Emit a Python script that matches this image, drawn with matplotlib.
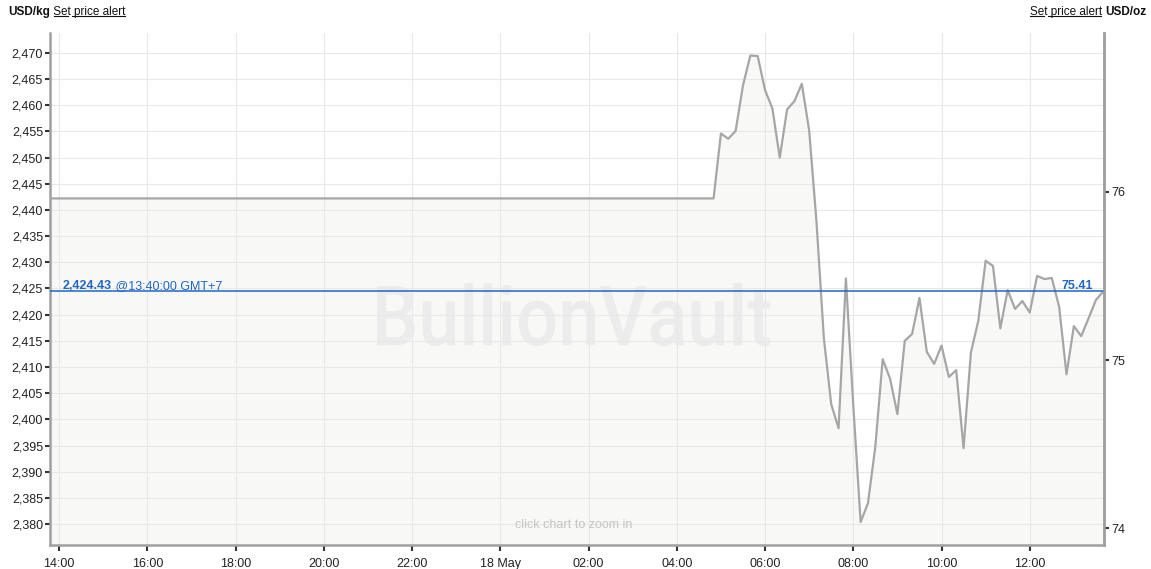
"""Silver price, USD/kg with USD/oz on the right axis (BullionVault style)."""
import matplotlib
matplotlib.use("Agg")
import matplotlib.pyplot as plt
from matplotlib.font_manager import FontProperties
from matplotlib.lines import Line2D
from matplotlib.patches import PathPatch
from matplotlib.textpath import TextPath
from matplotlib.transforms import Affine2D
import numpy as np
import pandas as pd

OZ_PER_KG = 32.1507

# market closed -> flat price, then 10-minute quotes 04:50 .. 13:40
flat_start = "2024-05-17 13:40"
flat_price = 2442.2
live_start = "2024-05-18 04:50"
live_prices = [
    2442.2, 2454.6, 2453.6, 2455.1, 2463.8, 2469.5, 2469.4, 2462.9, 2459.4, 2450.0,
    2459.2, 2460.8, 2464.1, 2455.2, 2437.7, 2415.5, 2402.9, 2398.3, 2426.9, 2402.7,
    2380.4, 2384.0, 2394.8, 2411.5, 2407.8, 2401.0, 2415.0, 2416.3, 2423.2, 2412.9,
    2410.6, 2414.1, 2408.1, 2409.4, 2394.5, 2412.8, 2418.8, 2430.3, 2429.3, 2417.4,
    2424.7, 2421.1, 2422.6, 2420.4, 2427.4, 2426.8, 2427.0, 2421.5, 2408.6, 2417.8,
    2415.9, 2419.3, 2422.8, 2424.43,
]
last_price = 2424.43
last_label = "@13:40:00 GMT+7"

x_ticks = ["2024-05-17 14:00", "2024-05-17 16:00", "2024-05-17 18:00", "2024-05-17 20:00",
           "2024-05-17 22:00", "2024-05-18 00:00", "2024-05-18 02:00", "2024-05-18 04:00",
           "2024-05-18 06:00", "2024-05-18 08:00", "2024-05-18 10:00", "2024-05-18 12:00"]
x_labels = ["14:00", "16:00", "18:00", "20:00", "22:00", "18 May",
            "02:00", "04:00", "06:00", "08:00", "10:00", "12:00"]
kg_ticks = list(range(2380, 2471, 5))
oz_ticks = [74, 75, 76]

BLUE = "#1f66c6"
LINE = "#a6a6a6"
SPINE = "#a0a0a0"
W, H = 1151, 569


def main():
    plt.rcParams["font.family"] = ["Liberation Sans", "DejaVu Sans"]
    plt.rcParams["font.size"] = 9

    times = pd.DatetimeIndex([pd.Timestamp(flat_start)]).append(
        pd.date_range(live_start, periods=len(live_prices), freq="10min"))
    prices = np.array([flat_price] + live_prices)

    fig = plt.figure(figsize=(W / 100, H / 100), dpi=100)
    ax = fig.add_axes([50 / W, 24 / H, 1054 / W, 512 / H])
    ylim = (2376.0, 2473.8)

    ax.fill_between(times, prices, ylim[0], color="#f8f8f6", lw=0, zorder=1)
    ax.plot(times, prices, color=LINE, lw=1.6, zorder=3)
    ax.axhline(last_price, color=BLUE, lw=1.1, zorder=4)

    ax.set_xlim(pd.Timestamp("2024-05-17 13:47:30"), pd.Timestamp("2024-05-18 13:41"))
    ax.set_ylim(*ylim)
    ax.set_xticks(pd.to_datetime(x_ticks))
    ax.set_xticklabels(x_labels)
    ax.set_yticks(kg_ticks)
    ax.set_yticklabels([f"{v:,}" for v in kg_ticks])
    ax.grid(True, color="#e8e8e8", lw=0.8, zorder=2)
    ax.tick_params(axis="both", length=3.5, width=1.5, color="#333333", labelcolor="#222222",
                   labelsize=9, pad=1.5)
    ax.tick_params(axis="x", length=4, pad=5.5)
    ax.spines["top"].set_visible(False)
    for s in ["left", "bottom", "right"]:
        ax.spines[s].set_color(SPINE)
        ax.spines[s].set_linewidth(1.8)

    # watermark, squeezed into its box (pixels, top-down: x 377..770, y 283..346)
    tp = TextPath((0, 0), "BullionVault", size=100,
                  prop=FontProperties(family="Roboto", weight="medium"))
    ext = tp.get_extents()
    sx = (770 - 377) / ext.width
    sy = (346 - 283) / ext.height
    tr = Affine2D().translate(-ext.x0, -ext.y0).scale(sx, sy).translate(377, H - 346)
    mark = PathPatch(tr.transform_path(tp), facecolor="#ececec", edgecolor="none", zorder=1.5)
    ax.add_patch(mark)
    mark.set_transform(Affine2D())  # display pixels
    mark.set_clip_on(False)

    ax.text(0.497, 0.04, "click chart to zoom in", transform=ax.transAxes, ha="center",
            va="center", fontsize=9, color="#c4c4c4")

    # current price labels
    t = ax.annotate(f"{last_price:,.2f}", xy=(0.012, last_price), xycoords=("axes fraction", "data"),
                    xytext=(0, -0.5), textcoords="offset points", ha="left", va="bottom",
                    color=BLUE, fontweight="bold", fontsize=9)
    ax.annotate(" " + last_label, xy=(1, 0), xycoords=t, ha="left", va="bottom",
                color=BLUE, fontsize=9)
    ax.annotate(f"{last_price / OZ_PER_KG:.2f}", xy=(0.9895, last_price),
                xycoords=("axes fraction", "data"), xytext=(0, -0.5), textcoords="offset points",
                ha="right", va="bottom", color=BLUE, fontweight="bold", fontsize=9)

    # right axis in USD/oz
    ax2 = ax.twinx()
    ax2.set_ylim(ylim[0] / OZ_PER_KG, ylim[1] / OZ_PER_KG)
    ax2.set_yticks(oz_ticks)
    ax2.tick_params(axis="y", length=3.5, width=1.5, color="#333333", labelcolor="#222222",
                    labelsize=9, pad=1.5)
    for s in ["top", "left", "bottom"]:
        ax2.spines[s].set_visible(False)
    ax2.spines["right"].set_color(SPINE)
    ax2.spines["right"].set_linewidth(1.8)

    # header
    hs = 8.5
    h1 = fig.text(8 / W, 1 - 12 / H, "USD/kg", fontweight="bold", fontsize=hs,
                  va="center", ha="left", color="#111111")
    a1 = ax.annotate(" Set price alert", xy=(1, 0), xycoords=h1, ha="left", va="bottom",
                     fontsize=hs, color="#111111", annotation_clip=False)
    h3 = fig.text(1146 / W, 1 - 12 / H, "USD/oz", fontweight="bold", fontsize=hs,
                  va="center", ha="right", color="#111111")
    a2 = ax.annotate("Set price alert ", xy=(0, 0), xycoords=h3, ha="right", va="bottom",
                     fontsize=hs, color="#111111", annotation_clip=False)

    fig.canvas.draw()
    r = fig.canvas.get_renderer()
    inv = fig.transFigure.inverted()
    for a, lead, trail in [(a1, " ", ""), (a2, "", " ")]:
        bb = a.get_window_extent(r)
        (x0, y0), (x1, _) = inv.transform([(bb.x0, bb.y0), (bb.x1, bb.y1)])
        w = (x1 - x0) / len(a.get_text())
        x0 += w * len(lead) * 0.8
        x1 -= w * len(trail) * 0.8
        y = y0 + 2.5 / H
        # underline the words separately like the web links
        text = a.get_text().strip()
        first = len("Set") / len(text)
        xm = x0 + (x1 - x0) * first
        xs = x0 + (x1 - x0) * (first + 0.06)
        fig.add_artist(Line2D([x0, xm], [y, y], color="#111111", lw=0.8, transform=fig.transFigure))
        fig.add_artist(Line2D([xs, x1], [y, y], color="#111111", lw=0.8, transform=fig.transFigure))

    fig.savefig("out.png", dpi=100)
    plt.close(fig)


if __name__ == "__main__":
    main()
